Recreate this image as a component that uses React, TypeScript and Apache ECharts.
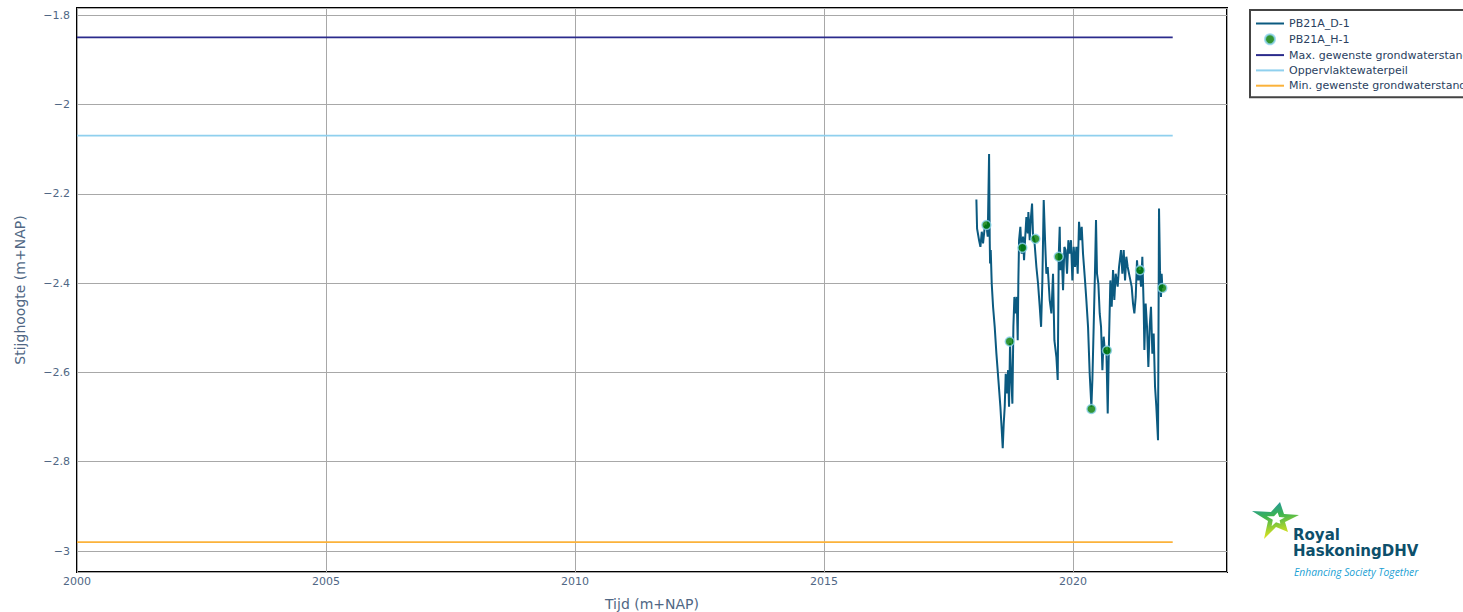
import React, { useEffect, useRef } from "react";
import * as echarts from "echarts";

// ---- data ----
const xTicks = [2000, 2005, 2010, 2015, 2020];
const yTicks = [-3, -2.8, -2.6, -2.4, -2.2, -2, -1.8];

const seriesNames = [
  "PB21A_D-1",
  "PB21A_H-1",
  "Max. gewenste grondwaterstand",
  "Oppervlaktewaterpeil",
  "Min. gewenste grondwaterstand",
];

// PB21A_D-1 (continuous logger) : decimal year / level (m+NAP)
const loggerYears = [
  2018.058, 2018.072, 2018.112, 2018.139, 2018.166, 2018.192, 2018.226, 2018.259, 2018.286, 2018.313,
  2018.326, 2018.333, 2018.346, 2018.366, 2018.393, 2018.426, 2018.46, 2018.5, 2018.54, 2018.567,
  2018.587, 2018.607, 2018.627, 2018.647, 2018.674, 2018.694, 2018.714, 2018.734, 2018.754, 2018.781,
  2018.801, 2018.821, 2018.848, 2018.868, 2018.888, 2018.901, 2018.915, 2018.941, 2018.968, 2018.995,
  2019.015, 2019.035, 2019.062, 2019.089, 2019.102, 2019.129, 2019.149, 2019.176, 2019.196, 2019.222,
  2019.263, 2019.296, 2019.33, 2019.357, 2019.383, 2019.41, 2019.437, 2019.463, 2019.49, 2019.53,
  2019.564, 2019.597, 2019.624, 2019.664, 2019.691, 2019.711, 2019.731, 2019.745, 2019.771, 2019.798,
  2019.825, 2019.851, 2019.878, 2019.905, 2019.932, 2019.958, 2019.985, 2020.012, 2020.039, 2020.066,
  2020.092, 2020.119, 2020.146, 2020.173, 2020.199, 2020.239, 2020.266, 2020.3, 2020.333, 2020.367,
  2020.387, 2020.413, 2020.44, 2020.46, 2020.48, 2020.507, 2020.534, 2020.561, 2020.588, 2020.614,
  2020.641, 2020.668, 2020.695, 2020.721, 2020.748, 2020.775, 2020.802, 2020.828, 2020.855, 2020.895,
  2020.922, 2020.962, 2020.989, 2021.016, 2021.043, 2021.069, 2021.096, 2021.136, 2021.176, 2021.203,
  2021.23, 2021.257, 2021.283, 2021.31, 2021.337, 2021.364, 2021.39, 2021.417, 2021.431, 2021.457,
  2021.484, 2021.511, 2021.538, 2021.564, 2021.591, 2021.618, 2021.645, 2021.671, 2021.705, 2021.725,
  2021.745, 2021.765, 2021.778, 2021.792,
];
const loggerLevels = [
  -2.213, -2.278, -2.304, -2.319, -2.285, -2.311, -2.274, -2.27, -2.296, -2.111,
  -2.304, -2.356, -2.326, -2.401, -2.453, -2.498, -2.558, -2.617, -2.677, -2.729,
  -2.77, -2.715, -2.677, -2.603, -2.647, -2.595, -2.677, -2.535, -2.603, -2.67,
  -2.498, -2.431, -2.468, -2.431, -2.528, -2.394, -2.304, -2.274, -2.334, -2.296,
  -2.349, -2.304, -2.252, -2.289, -2.241, -2.304, -2.259, -2.222, -2.296, -2.304,
  -2.364, -2.401, -2.453, -2.498, -2.394, -2.214, -2.304, -2.379, -2.364, -2.438,
  -2.468, -2.379, -2.528, -2.565, -2.617, -2.341, -2.274, -2.371, -2.334, -2.416,
  -2.319, -2.326, -2.379, -2.304, -2.334, -2.304, -2.394, -2.319, -2.364, -2.319,
  -2.379, -2.263, -2.304, -2.274, -2.334, -2.394, -2.438, -2.498, -2.603, -2.677,
  -2.617, -2.498, -2.371, -2.259, -2.379, -2.401, -2.468, -2.498, -2.595, -2.52,
  -2.558, -2.55, -2.692, -2.528, -2.394, -2.453, -2.371, -2.438, -2.379, -2.408,
  -2.364, -2.326, -2.379, -2.326, -2.394, -2.341, -2.364, -2.386, -2.408, -2.446,
  -2.468, -2.431, -2.349, -2.394, -2.371, -2.408, -2.341, -2.453, -2.55, -2.446,
  -2.498, -2.588, -2.498, -2.453, -2.558, -2.513, -2.632, -2.677, -2.752, -2.233,
  -2.371, -2.431, -2.379, -2.411,
];

// PB21A_H-1 (manual readings)
const manualYears = [2018.259, 2018.727, 2018.982, 2019.243, 2019.711, 2020.367, 2020.681, 2021.344, 2021.792];
const manualLevels = [-2.27, -2.531, -2.321, -2.301, -2.341, -2.682, -2.551, -2.371, -2.411];

// reference levels
const refYears = [2000, 2022];
const maxLevel = -1.85;
const surfaceLevel = -2.07;
const minLevel = -2.98;

// axis ranges
const xRange = [2000, 2023.09];
const yRange = [-3.047, -1.784];

const TEXT = "#506784";
const FONT = "Verdana, 'DejaVu Sans', sans-serif";

function fmtY(v: number): string {
  const t = yTicks.find((k) => Math.abs(k - v) < 1e-6);
  if (t === undefined) return "";
  return String(t).replace("-", "\u2212");
}
function fmtX(v: number): string {
  const t = xTicks.find((k) => Math.abs(k - v) < 1e-6);
  return t === undefined ? "" : String(t);
}

// logo star outline (decorative, pixel space)
const starOuter = [
  [1280, 502], [1284, 514], [1299, 515], [1285, 522], [1288, 532],
  [1276, 527], [1264, 539], [1268, 521], [1252, 511], [1271, 512],
];
const starInner = [
  [1277.6, 512.6], [1279.2, 517], [1284.8, 517.4], [1279.6, 520.2], [1280.4, 523.8],
  [1276, 522.2], [1271.6, 526.2], [1272.8, 519.8], [1266.8, 516.2], [1274, 516.2],
];

export default function App() {
  const ref = useRef<HTMLDivElement>(null);
  useEffect(() => {
    if (!ref.current) return;
    const chart = echarts.init(ref.current, undefined, { renderer: "svg" });
    const flat = (lvl: number) => refYears.map((y) => [y, lvl]);
    const lineLegend = (name: string) => ({ name, itemStyle: { opacity: 0 } });
    chart.setOption({
      animation: false,
      backgroundColor: "#ffffff",
      textStyle: { fontFamily: FONT },
      grid: {
        left: 77,
        right: 236,
        top: 8,
        bottom: 40,
        show: true,
        borderColor: "#000000",
        borderWidth: 2,
        containLabel: false,
        outerBoundsMode: "none",
      },
      xAxis: {
        type: "value",
        min: xRange[0],
        max: xRange[1],
        interval: 5,
        name: "Tijd (m+NAP)",
        nameLocation: "middle",
        nameGap: 25,
        nameTextStyle: { color: TEXT, fontSize: 14, fontFamily: FONT },
        axisLine: { show: false },
        axisTick: { show: false },
        axisLabel: { color: TEXT, fontSize: 11, margin: 4, formatter: fmtX, fontFamily: FONT },
        splitLine: { show: true, lineStyle: { color: "#a8a8a8", width: 1 } },
      },
      yAxis: {
        type: "value",
        min: yRange[0],
        max: yRange[1],
        splitNumber: 6,
        name: "Stijghoogte (m+NAP)",
        nameLocation: "middle",
        nameGap: 50,
        nameTextStyle: { color: TEXT, fontSize: 14, fontFamily: FONT },
        axisLine: { show: false },
        axisTick: { show: false },
        axisLabel: { color: TEXT, fontSize: 11, margin: 7, formatter: fmtY, fontFamily: FONT },
        splitLine: { show: true, lineStyle: { color: "#a8a8a8", width: 1 } },
      },
      legend: {
        orient: "vertical",
        left: 1250,
        top: 10,
        data: [
          lineLegend(seriesNames[0]),
          { name: seriesNames[1] },
          lineLegend(seriesNames[2]),
          lineLegend(seriesNames[3]),
          lineLegend(seriesNames[4]),
        ],
        itemWidth: 28,
        itemHeight: 10,
        itemGap: 4.3,
        padding: [8, 6, 6, 5],
        borderColor: "#444444",
        borderWidth: 2,
        backgroundColor: "#ffffff",
        textStyle: { color: "#2a3f5f", fontSize: 11, fontFamily: FONT },
      },
      graphic: [
        {
          type: "polygon",
          shape: { points: starOuter },
          style: {
            fill: new echarts.graphic.LinearGradient(0, 0, 0.25, 1, [
              { offset: 0, color: "#1c8db8" },
              { offset: 0.45, color: "#3cb450" },
              { offset: 1, color: "#e2e41c" },
            ]),
          },
        },
        {
          type: "polygon",
          shape: { points: starInner },
          style: { fill: "#ffffff" },
        },
        {
          type: "text",
          x: 1293,
          y: 527,
          style: {
            text: "Royal",
            fill: "#0d4f6b",
            font: "bold 15px 'DejaVu Sans', sans-serif",
            lineHeight: 15,
          },
        },
        {
          type: "text",
          x: 1293,
          y: 543,
          style: {
            text: "HaskoningDHV",
            fill: "#0d4f6b",
            font: "bold 15px 'DejaVu Sans', sans-serif",
            lineHeight: 15,
          },
        },
        {
          type: "text",
          x: 1294,
          y: 566,
          style: {
            text: "Enhancing Society Together",
            fill: "#1a9fd4",
            font: "italic 10.3px 'Open Sans', sans-serif",
            lineHeight: 12,
          },
        },
      ],
      series: [
        {
          name: seriesNames[0],
          type: "line",
          data: loggerYears.map((y, i) => [y, loggerLevels[i]]),
          showSymbol: false,
          symbol: "none",
          lineStyle: { color: "#0b5a80", width: 2 },
          itemStyle: { color: "#0b5a80" },
          clip: true,
        },
        {
          name: seriesNames[1],
          type: "scatter",
          data: manualYears.map((y, i) => [y, manualLevels[i]]),
          symbol: "circle",
          symbolSize: 9,
          itemStyle: { color: "#007a00", borderColor: "#8fd3f0", borderWidth: 1.5 },
          z: 3,
        },
        {
          name: seriesNames[2],
          type: "line",
          data: flat(maxLevel),
          symbol: "none",
          lineStyle: { color: "#2b2b8c", width: 1.8 },
          itemStyle: { color: "#2b2b8c" },
        },
        {
          name: seriesNames[3],
          type: "line",
          data: flat(surfaceLevel),
          symbol: "none",
          lineStyle: { color: "#8fd0ee", width: 1.8 },
          itemStyle: { color: "#8fd0ee" },
        },
        {
          name: seriesNames[4],
          type: "line",
          data: flat(minLevel),
          symbol: "none",
          lineStyle: { color: "#fbb23a", width: 1.8 },
          itemStyle: { color: "#fbb23a" },
        },
      ],
    });
    return () => chart.dispose();
  }, []);
  return (
    <div
      ref={ref}
      style={{ position: "fixed", left: 0, top: 0, width: 1463, height: 612, background: "#fff" }}
    />
  );
}
